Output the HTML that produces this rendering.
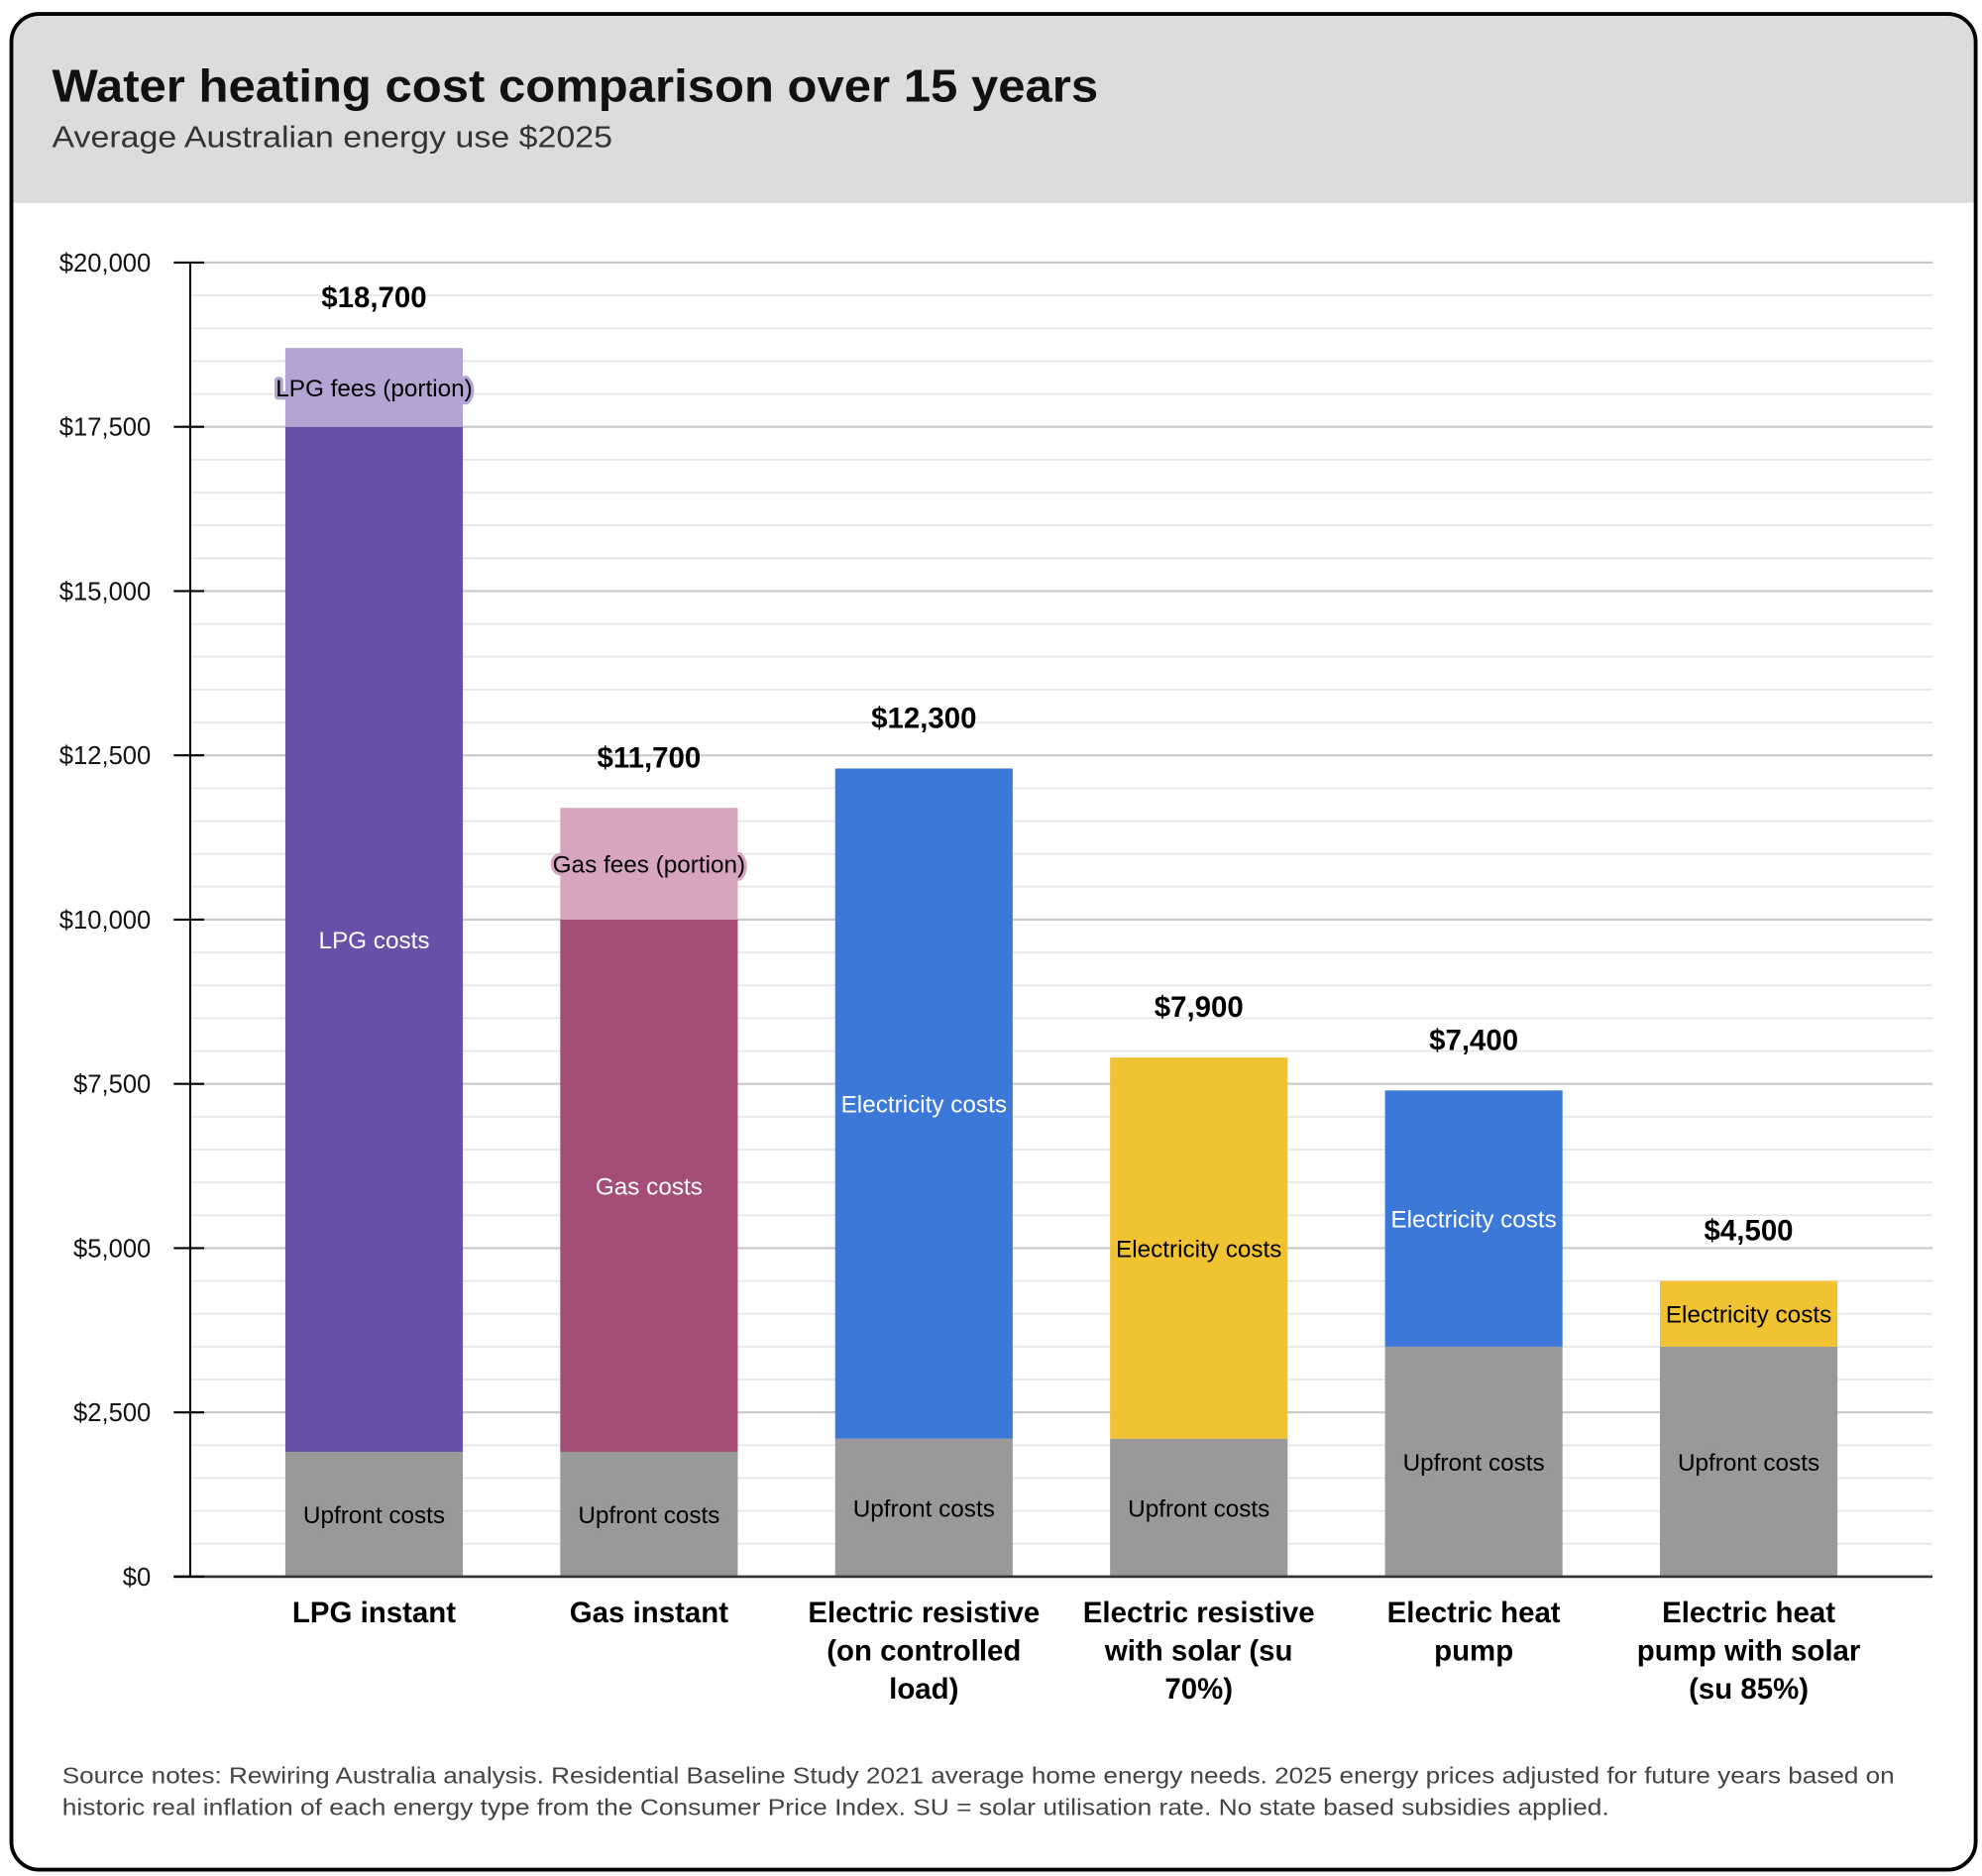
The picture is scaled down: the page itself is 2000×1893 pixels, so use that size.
<!DOCTYPE html>
<html><head><meta charset="utf-8"><style>
html,body{margin:0;padding:0;background:#fff;}
svg{display:block;font-family:"Liberation Sans",sans-serif;}
</style></head><body>
<svg id="chart" width="2000" height="1893" viewBox="0 0 1563 1479" preserveAspectRatio="none" xmlns="http://www.w3.org/2000/svg">
<defs><clipPath id="cardclip"><rect x="9" y="11" width="1549" height="1463" rx="22"/></clipPath></defs>
<rect x="0" y="0" width="1563" height="1479" fill="#fff"/>
<g clip-path="url(#cardclip)">
<rect x="0" y="0" width="1563" height="160" fill="#dcdcdc"/>
</g>
<rect x="9" y="11" width="1549" height="1463" rx="22" fill="none" stroke="#000" stroke-width="3"/>
<text x="41" y="80" font-size="36" font-weight="bold" fill="#111" textLength="825" lengthAdjust="spacingAndGlyphs">Water heating cost comparison over 15 years</text>
<text x="41" y="116" font-size="24" fill="#333" textLength="442" lengthAdjust="spacingAndGlyphs">Average Australian energy use $2025</text>
<g id="grid"></g><g id="bars"></g><g id="axis"></g>
<text x="49" y="1406" font-size="18" fill="#444" textLength="1445" lengthAdjust="spacingAndGlyphs">Source notes: Rewiring Australia analysis. Residential Baseline Study 2021 average home energy needs. 2025 energy prices adjusted for future years based on</text>
<text x="49" y="1431" font-size="18" fill="#444" textLength="1220" lengthAdjust="spacingAndGlyphs">historic real inflation of each energy type from the Consumer Price Index. SU = solar utilisation rate. No state based subsidies applied.</text>
</svg>
<script>
const categories = [["LPG instant"],["Gas instant"],["Electric resistive","(on controlled","load)"],["Electric resistive","with solar (su","70%)"],["Electric heat","pump"],["Electric heat","pump with solar","(su 85%)"]];
const upfront = [1900,1900,2100,2100,3500,3500];
const running = [15600,8100,10200,5800,3900,1000];
const fees = [1200,1700,0,0,0,0];
const totals = ["$18,700","$11,700","$12,300","$7,900","$7,400","$4,500"];
const runningLabels = ["LPG costs","Gas costs","Electricity costs","Electricity costs","Electricity costs","Electricity costs"];
const feeLabels = ["LPG fees (portion)","Gas fees (portion)","","","",""];
const runningColors = ["#684fa8","#a54d79","#3b78d8","#f1c232","#3b78d8","#f1c232"];
const feeColors = ["#b3a4d4","#d8a5c0","","","",""];
const runningText = ["#fff","#fff","#fff","#000","#fff","#000"];
const tickValues = [0,2500,5000,7500,10000,12500,15000,17500,20000];
const tickLabels = ["$0","$2,500","$5,000","$7,500","$10,000","$12,500","$15,000","$17,500","$20,000"];

const NS="http://www.w3.org/2000/svg";
const y0=1243, yTop=207, vmax=20000, xL=150, xR=1524, x0c=295, step=216.8, bw=140;
const y=v=>y0-(v/vmax)*(y0-yTop);
const xc=i=>x0c+i*step;
function mk(tag,attrs,parent,txt){const e=document.createElementNS(NS,tag);for(const k in attrs)e.setAttribute(k,attrs[k]);if(txt!==undefined)e.textContent=txt;parent.appendChild(e);return e;}
const grid=document.getElementById('grid'),bars=document.getElementById('bars'),axis=document.getElementById('axis');
for(let v=500;v<=vmax;v+=500){
  const major=v%2500===0;
  const l=mk('line',{x1:xL,x2:xR,y1:y(v),y2:y(v),stroke:major?'#c8c8c8':'#e6e6e6','stroke-width':major?1.6:1.4},grid);
  
  
}
function seg(i,a,b,color,label,tcolor,name){
  const r=mk('rect',{x:xc(i)-bw/2,y:y(b),width:bw,height:y(a)-y(b),fill:color},bars);
  
  
  if(label){
    const t=mk('text',{x:xc(i),y:(y(a)+y(b))/2+7,'text-anchor':'middle','font-size':19,fill:tcolor,stroke:color,'stroke-width':5,'paint-order':'stroke','stroke-linejoin':'round'},bars,label);
    
    
  }
}
categories.forEach((c,i)=>{
  seg(i,0,upfront[i],'#999999','Upfront costs','#000','upfront-bar-'+i);
  const r1=upfront[i]+running[i];
  seg(i,upfront[i],r1,runningColors[i],runningLabels[i],runningText[i],'running-bar-'+i);
  if(fees[i]>0) seg(i,r1,r1+fees[i],feeColors[i],feeLabels[i],'#000','fees-bar-'+i);
  const top=r1+fees[i];
  const t=mk('text',{x:xc(i),y:y(top)-32,'text-anchor':'middle','font-size':23,'font-weight':'bold',fill:'#000'},bars,totals[i]);
  
  
  c.forEach((line,j)=>{
    const ct=mk('text',{x:xc(i),y:1279+j*30,'text-anchor':'middle','font-size':23,'font-weight':'bold',fill:'#000'},axis,line);
    
    
  });
});
const ya=mk('line',{x1:xL,x2:xL,y1:yTop,y2:y0,stroke:'#000','stroke-width':1.6},axis);


const xa=mk('line',{x1:137,x2:xR,y1:y0,y2:y0,stroke:'#333','stroke-width':2},axis);


tickValues.forEach((v,k)=>{
  const tk=mk('line',{x1:137,x2:161,y1:y(v),y2:y(v),stroke:'#000','stroke-width':1.6},axis);
  
  
  const tl=mk('text',{x:119,y:y(v)+7,'text-anchor':'end','font-size':20,fill:'#111'},axis,tickLabels[k]);
  
  
});
</script>
</body></html>
